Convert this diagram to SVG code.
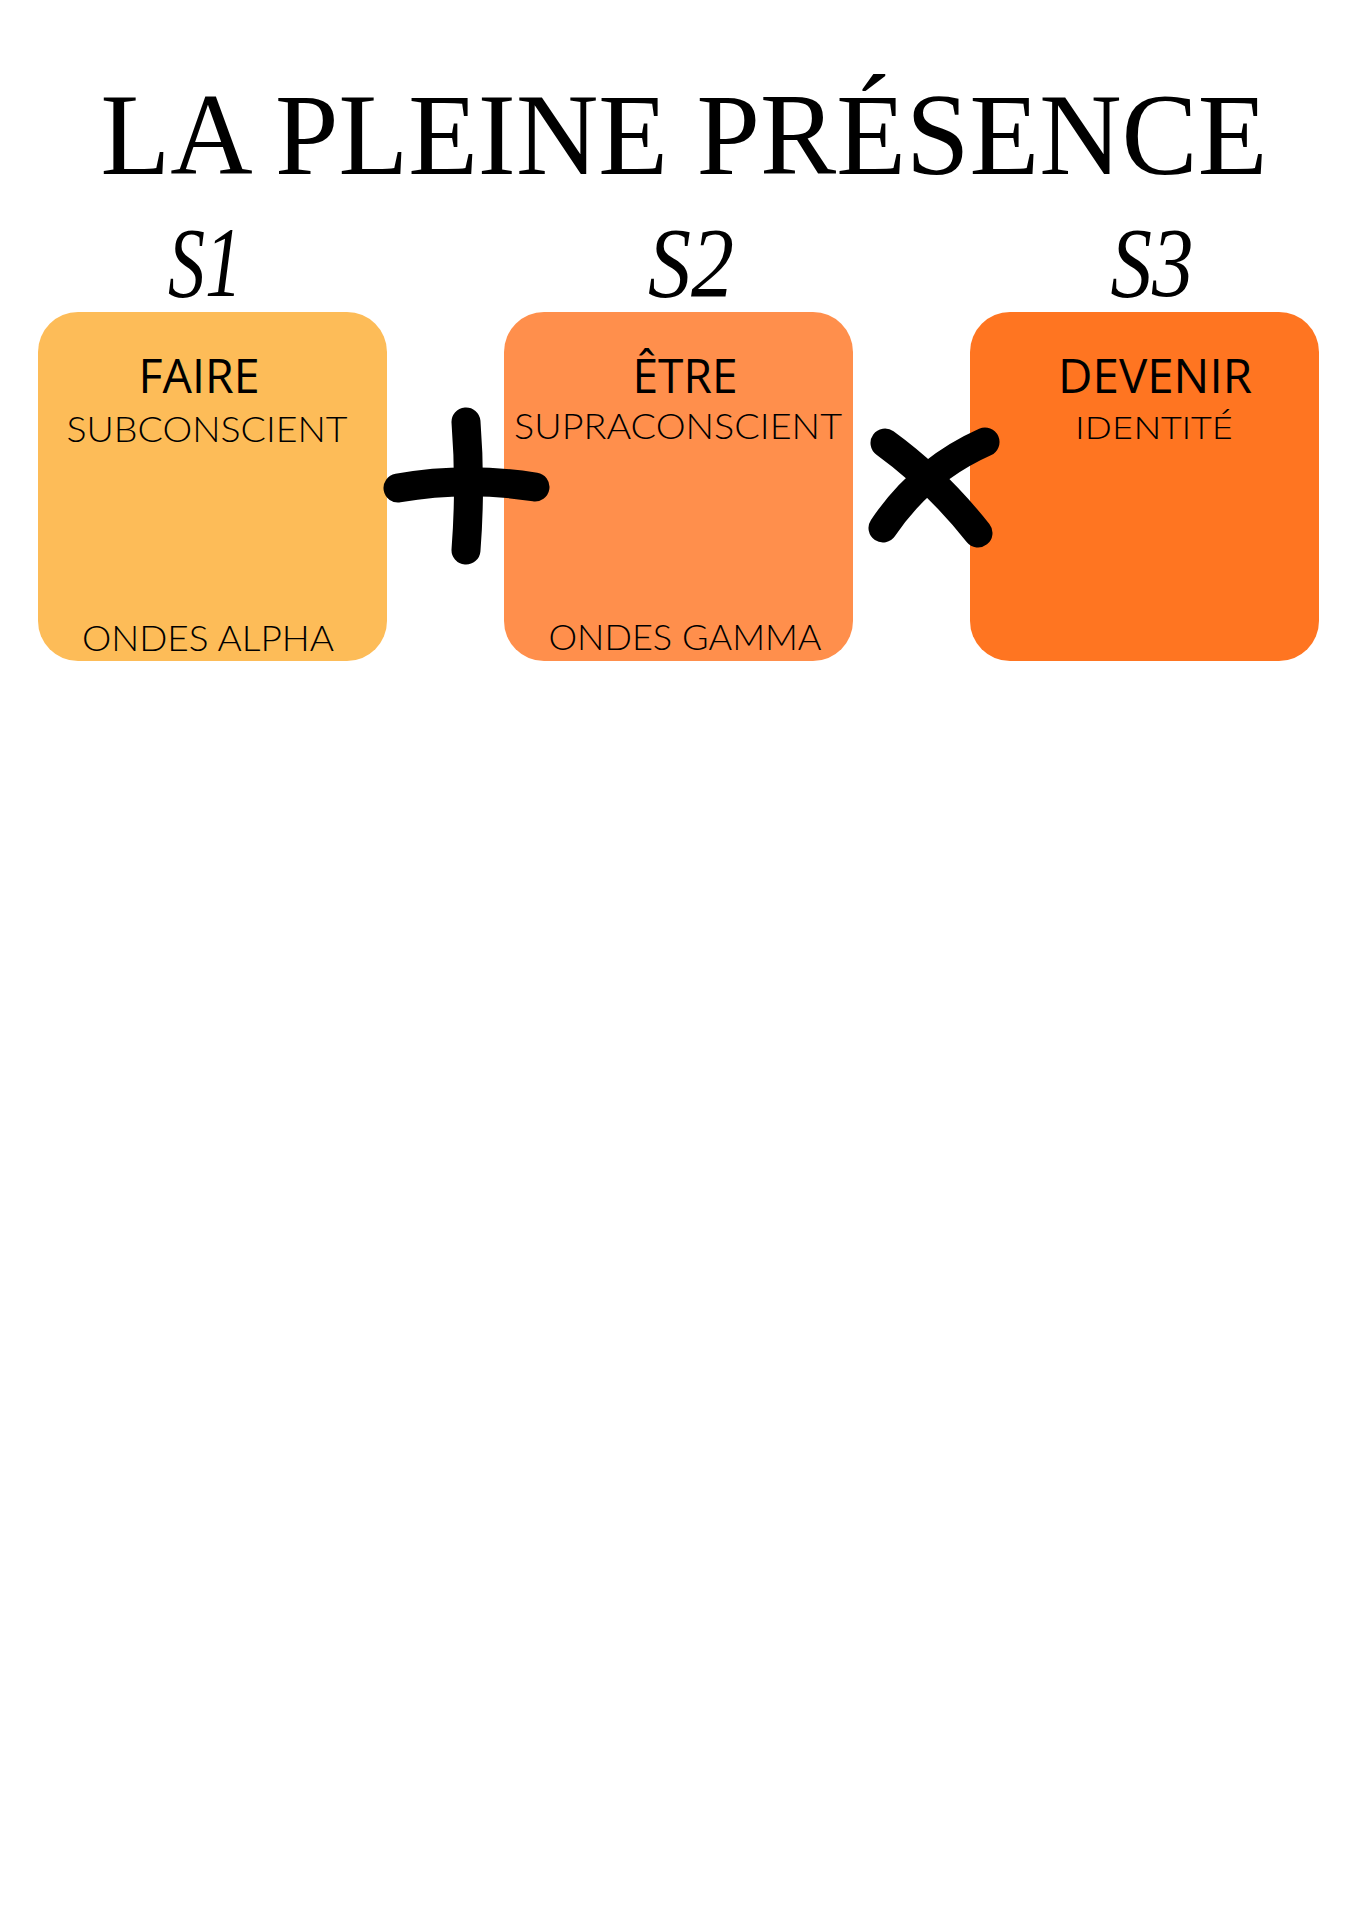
<svg xmlns="http://www.w3.org/2000/svg" width="1358" height="1920" viewBox="0 0 1358 1920">
  <style>
    .title { font-family: "Liberation Serif", "DejaVu Serif", serif; font-size: 117px; fill: #000; }
    .step { font-family: "Liberation Serif", "DejaVu Serif", serif; font-style: italic; font-size: 100px; fill: #000; }
    .head { font-family: "Open Sans", "Liberation Sans", sans-serif; font-size: 47px; fill: #000; }
    .sub { font-family: "Lato", "Open Sans", sans-serif; font-weight: 300; font-size: 35px; fill: #000; }
    .subo { font-family: "Open Sans", "Liberation Sans", sans-serif; font-weight: 300; font-size: 32px; fill: #000; }
    .op { fill: none; stroke: #000; stroke-width: 29; stroke-linecap: round; stroke-linejoin: round; }
  </style>
  <rect x="0" y="0" width="1358" height="1920" fill="#ffffff"/>

  <g id="title">
    <text class="title" x="684" y="174" text-anchor="middle" textLength="1167" lengthAdjust="spacingAndGlyphs">LA PLEINE PRÉSENCE</text>
  </g>

  <g id="node-s1">
    <text class="step" x="205" y="296" text-anchor="middle" textLength="74" lengthAdjust="spacingAndGlyphs">S1</text>
    <rect x="38" y="312" width="349" height="349" rx="40" ry="40" fill="#FDBC58"/>
    <text class="head" x="199" y="393" text-anchor="middle" textLength="121" lengthAdjust="spacingAndGlyphs">FAIRE</text>
    <text class="sub" x="207" y="442" text-anchor="middle" textLength="281" lengthAdjust="spacingAndGlyphs">SUBCONSCIENT</text>
    <text class="sub" x="208" y="651" text-anchor="middle" textLength="252" lengthAdjust="spacingAndGlyphs">ONDES ALPHA</text>
  </g>

  <g id="node-s2">
    <text class="step" x="691" y="296" text-anchor="middle" textLength="86" lengthAdjust="spacingAndGlyphs">S2</text>
    <rect x="504" y="312" width="349" height="349" rx="40" ry="40" fill="#FF8F4C"/>
    <text class="head" x="685" y="393" text-anchor="middle" textLength="105" lengthAdjust="spacingAndGlyphs">ÊTRE</text>
    <text class="sub" x="678" y="439" text-anchor="middle" textLength="328" lengthAdjust="spacingAndGlyphs">SUPRACONSCIENT</text>
    <text class="sub" x="685" y="650" text-anchor="middle" textLength="273" lengthAdjust="spacingAndGlyphs">ONDES GAMMA</text>
  </g>

  <g id="node-s3">
    <text class="step" x="1152" y="296" text-anchor="middle" textLength="83" lengthAdjust="spacingAndGlyphs">S3</text>
    <rect x="970" y="312" width="349" height="349" rx="40" ry="40" fill="#FF7521"/>
    <text class="head" x="1155" y="393" text-anchor="middle" textLength="194" lengthAdjust="spacingAndGlyphs">DEVENIR</text>
    <text class="subo" x="1154" y="439" text-anchor="middle" textLength="158" lengthAdjust="spacingAndGlyphs">IDENTITÉ</text>
  </g>

  <g id="connectors">
    <g id="plus">
      <path class="op" d="M466 422 Q471 486 466 550"/>
      <path class="op" d="M398 488 Q466 476 535 487"/>
    </g>
    <g id="times">
      <path class="op" d="M885 443 Q936 480 978 533"/>
      <path class="op" d="M985 442 Q922 470 883 528"/>
    </g>
  </g>
</svg>
